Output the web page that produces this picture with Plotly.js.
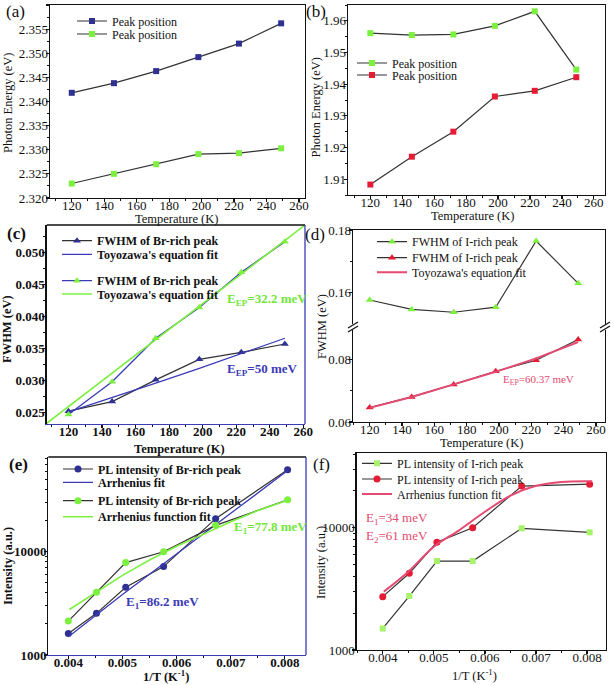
<!DOCTYPE html>
<html><head><meta charset="utf-8">
<script src="https://cdn.plot.ly/plotly-3.0.1.min.js"></script>
<style>html,body{margin:0;padding:0;background:#fff}#g{width:614px;height:685px}</style>
</head><body><div id="g"></div>
<script>
// ---- data ----
const temps = [120, 146, 172, 198, 223, 249];
const aBrPeak = [2.3418, 2.3438, 2.3463, 2.3492, 2.3520, 2.3562];
const aIPeak = [2.3230, 2.3250, 2.3270, 2.3291, 2.3293, 2.3303];
const bGreenPeak = [1.9561, 1.9555, 1.9557, 1.9584, 1.9630, 1.9446];
const bRedPeak = [1.9083, 1.9171, 1.9250, 1.9361, 1.9379, 1.9422];
const cFwhm1 = [0.0252, 0.0267, 0.0301, 0.0333, 0.0344, 0.0357];
const cFit1 = [0.0251, 0.0273, 0.0296, 0.0319, 0.0342, 0.0366];
const cFwhm2 = [0.0247, 0.0298, 0.0366, 0.0414, 0.0469, 0.0517];
const cFit2T = [104, 150, 200, 262];
const cFit2 = [0.0227, 0.0319, 0.0420, 0.0545];
const dFwhmUpper = [0.1577, 0.1547, 0.1538, 0.1554, 0.1765, 0.1630];
const dFwhmLower = [0.0646, 0.0680, 0.0720, 0.0762, 0.0797, 0.0863];
const dFit = [0.0645, 0.0680, 0.0720, 0.0760, 0.0803, 0.0855];
const invT = [0.00400, 0.00452, 0.00506, 0.00576, 0.00672, 0.00805];
const ePL1 = [1615, 2530, 4520, 7180, 20900, 62100];
const ePL2 = [2130, 4040, 7850, 10000, 18000, 31800];
const fitInvT = [0.00402, 0.0045, 0.0050, 0.0055, 0.0060, 0.0065, 0.0070, 0.0075, 0.00805];
const eFit1 = [1530, 2420, 3850, 6050, 9500, 15000, 23500, 37000, 61000];
const eFit2 = [2760, 4000, 5900, 8300, 11300, 14800, 19500, 25000, 31500];
const fPL1 = [1500, 2760, 5340, 5340, 9890, 9160];
const fPL2 = [2730, 4240, 7600, 10000, 21900, 22700];
const fFitInvT = [0.00402, 0.0045, 0.0050, 0.0055, 0.0060, 0.0065, 0.0070, 0.0075, 0.0081];
const fFit = [3000, 4370, 7000, 9570, 13500, 18300, 22000, 23700, 24000];

// ---- style ----
const F = 'Liberation Serif, Times New Roman, serif';
const NAVY = '#2e3192', LIME = '#7cf03e', LIME2 = '#a6f26a', RED = '#e51c34', BLUE = '#3b3bb8', PINK = '#e44a72', DARK = '#333333';
const W = 614, H = 685;
const px = v => v / W, py = v => 1 - v / H;
const MINOR = {ticks: 'outside', ticklen: 2, tickwidth: 1, tickcolor: '#111'};

function ax(o, bold) {
  return Object.assign({
    showline: true, linecolor: '#111', linewidth: 1.3, mirror: true,
    ticks: 'outside', ticklen: 3, tickwidth: 1.2, tickcolor: '#111',
    showgrid: false, zeroline: false,
    tickfont: {family: F, size: 13, color: '#111', weight: bold ? 'bold' : 'normal'},
    minor: MINOR
  }, o);
}

const traces = [
  // (a)
  {x: temps, y: aBrPeak, xaxis: 'x', yaxis: 'y', mode: 'lines+markers', name: 'Peak position',
   line: {color: DARK, width: 1.2}, marker: {symbol: 'square', size: 6, color: NAVY}},
  {x: temps, y: aIPeak, xaxis: 'x', yaxis: 'y', mode: 'lines+markers', name: 'Peak position',
   line: {color: DARK, width: 1.2}, marker: {symbol: 'square', size: 6, color: LIME}},
  // (b)
  {x: temps, y: bGreenPeak, xaxis: 'x2', yaxis: 'y2', mode: 'lines+markers', name: 'Peak position',
   line: {color: DARK, width: 1.2}, marker: {symbol: 'square', size: 6, color: LIME}},
  {x: temps, y: bRedPeak, xaxis: 'x2', yaxis: 'y2', mode: 'lines+markers', name: 'Peak position',
   line: {color: DARK, width: 1.2}, marker: {symbol: 'square', size: 6, color: RED}},
  // (c)
  {x: temps, y: cFwhm1, xaxis: 'x3', yaxis: 'y3', mode: 'lines+markers', name: 'FWHM of Br-rich peak',
   line: {color: DARK, width: 1.2}, marker: {symbol: 'triangle-up', size: 7, color: NAVY}},
  {x: temps, y: cFit1, xaxis: 'x3', yaxis: 'y3', mode: 'lines', name: "Toyozawa's equation fit",
   line: {color: BLUE, width: 1.3}},
  {x: temps, y: cFwhm2, xaxis: 'x3', yaxis: 'y3', mode: 'lines+markers', name: 'FWHM of Br-rich peak',
   line: {color: BLUE, width: 1.3}, marker: {symbol: 'triangle-up', size: 7, color: LIME}},
  {x: cFit2T, y: cFit2, xaxis: 'x3', yaxis: 'y3', mode: 'lines', name: "Toyozawa's equation fit",
   line: {color: LIME, width: 1.6}},
  // (d)
  {x: temps, y: dFwhmUpper, xaxis: 'x5', yaxis: 'y5', mode: 'lines+markers', name: 'FWHM of I-rich peak',
   line: {color: DARK, width: 1.2}, marker: {symbol: 'triangle-up', size: 7, color: LIME}},
  {x: temps, y: dFwhmLower, xaxis: 'x4', yaxis: 'y4', mode: 'lines+markers', name: 'FWHM of I-rich peak',
   line: {color: DARK, width: 1.2}, marker: {symbol: 'triangle-up', size: 7, color: RED}},
  {x: temps, y: dFit, xaxis: 'x4', yaxis: 'y4', mode: 'lines', name: "Toyozawa's equation fit",
   line: {color: PINK, width: 2}},
  // (e)
  {x: invT, y: ePL1, xaxis: 'x6', yaxis: 'y6', mode: 'lines+markers', name: 'PL intensity of Br-rich peak',
   line: {color: DARK, width: 1.2}, marker: {symbol: 'circle', size: 7, color: NAVY}},
  {x: fitInvT, y: eFit1, xaxis: 'x6', yaxis: 'y6', mode: 'lines', name: 'Arrhenius fit',
   line: {color: BLUE, width: 1.3}},
  {x: invT, y: ePL2, xaxis: 'x6', yaxis: 'y6', mode: 'lines+markers', name: 'PL intensity of Br-rich peak',
   line: {color: DARK, width: 1.2}, marker: {symbol: 'circle', size: 7, color: LIME}},
  {x: fitInvT, y: eFit2, xaxis: 'x6', yaxis: 'y6', mode: 'lines', name: 'Arrhenius function fit',
   line: {color: LIME, width: 1.6}},
  // (f)
  {x: invT, y: fPL1, xaxis: 'x7', yaxis: 'y7', mode: 'lines+markers', name: 'PL intensity of I-rich peak',
   line: {color: DARK, width: 1.2}, marker: {symbol: 'square', size: 6, color: LIME2}},
  {x: invT, y: fPL2, xaxis: 'x7', yaxis: 'y7', mode: 'lines+markers', name: 'PL intensity of I-rich peak',
   line: {color: DARK, width: 1.2}, marker: {symbol: 'circle', size: 7, color: RED}},
  {x: fFitInvT, y: fFit, xaxis: 'x7', yaxis: 'y7', mode: 'lines', name: 'Arrhenius function fit',
   line: {color: PINK, width: 2, shape: 'spline'}}
];

const XS = -8, YS = -5;
const tempTicks = {tickmode: 'linear', tick0: 120, dtick: 20, ticklabelstandoff: XS, minor: Object.assign({dtick: 10, tick0: 110}, MINOR)};
const invTicks = {tickmode: 'linear', tick0: 0.004, dtick: 0.001, tickformat: '.3f', ticklabelstandoff: XS, minor: Object.assign({dtick: 0.0005, tick0: 0.0035}, MINOR)};
const logMinor = [2000,3000,4000,5000,6000,7000,8000,9000,20000,30000,40000,50000,60000,70000,80000,90000];
const logTicks = {type: 'log', tickvals: [1000, 10000], ticktext: ['1000', '10000'], ticklabelstandoff: YS, minor: Object.assign({tickvals: logMinor}, MINOR)};

const layout = {
  width: W, height: H, margin: {l: 0, r: 0, t: 0, b: 0}, paper_bgcolor: '#fff', plot_bgcolor: '#fff', showlegend: true,
  font: {family: F, color: '#111'},
  // (a)
  xaxis: ax(Object.assign({domain: [px(50), px(305)], anchor: 'y', range: [106.6, 263.7]}, tempTicks)),
  yaxis: ax({domain: [py(198), py(5)], anchor: 'x', range: [2.320, 2.360], tickmode: 'linear', tick0: 2.32, dtick: 0.005, tickformat: '.3f', ticklabelstandoff: YS,
    minor: Object.assign({dtick: 0.0025, tick0: 2.32}, MINOR)}),
  // (b)
  xaxis2: ax(Object.assign({domain: [px(348), px(605)], anchor: 'y2', range: [106, 267]}, tempTicks)),
  yaxis2: ax({domain: [py(195), py(5)], anchor: 'x2', range: [1.905, 1.965], tickmode: 'linear', tick0: 1.91, dtick: 0.01, tickformat: '.2f', ticklabelstandoff: YS,
    minor: Object.assign({dtick: 0.005, tick0: 1.905}, MINOR)}),
  // (c)
  xaxis3: ax(Object.assign({domain: [px(46.7), px(305)], anchor: 'y3', range: [107, 261], linecolor: BLUE, mirror: false}, tempTicks), true),
  yaxis3: ax({domain: [py(424), py(225)], anchor: 'x3', range: [0.0232, 0.0543], mirror: false, tickmode: 'linear', tick0: 0.025, dtick: 0.005, tickformat: '.3f', ticklabelstandoff: YS,
    minor: Object.assign({dtick: 0.0025, tick0: 0.0225}, MINOR)}, true),
  // (d) lower
  xaxis4: ax(Object.assign({domain: [px(353), px(605)], anchor: 'y4', range: [109.7, 265.6], mirror: false}, tempTicks)),
  yaxis4: ax({domain: [py(422), py(327)], anchor: 'x4', range: [0.06, 0.0903], tickvals: [0.06, 0.08], ticktext: ['0.06', '0.08'], ticklabelstandoff: YS,
    minor: Object.assign({tickvals: [0.07, 0.09]}, MINOR)}),
  // (d) upper
  xaxis5: ax({domain: [px(353), px(605)], anchor: 'y5', matches: 'x4', side: 'top', ticks: '', showticklabels: false, mirror: false,
    minor: {ticks: ''}}),
  yaxis5: ax({domain: [py(327), py(230)], anchor: 'x5', range: [0.1491, 0.18], tickvals: [0.16, 0.18], ticktext: ['0.16', '0.18'], ticklabelstandoff: YS,
    minor: Object.assign({tickvals: [0.15, 0.17]}, MINOR)}),
  // (e)
  xaxis6: ax(Object.assign({domain: [px(48.3), px(306)], anchor: 'y6', range: [0.00363, 0.00839], linecolor: BLUE, mirror: false}, invTicks), true),
  yaxis6: ax(Object.assign({domain: [py(655), py(457)], anchor: 'x6', range: [3, 4.917], mirror: false}, logTicks), true),
  // (f)
  xaxis7: ax(Object.assign({domain: [px(356.7), px(606)], anchor: 'y7', range: [0.00349, 0.00837]}, invTicks)),
  yaxis7: ax(Object.assign({domain: [py(650), py(453)], anchor: 'x7', range: [3, 4.611]}, logTicks)),

  shapes: [
    // (c) frame: top black, right blue
    {type: 'line', xref: 'x3 domain', yref: 'y3 domain', x0: 0, x1: 1, y0: 1, y1: 1, line: {color: '#111', width: 1.3}},
    {type: 'line', xref: 'x3 domain', yref: 'y3 domain', x0: 1, x1: 1, y0: 0, y1: 1, line: {color: BLUE, width: 1.3}},
    // (e) frame
    {type: 'line', xref: 'x6 domain', yref: 'y6 domain', x0: 0, x1: 1, y0: 1, y1: 1, line: {color: '#111', width: 1.3}},
    {type: 'line', xref: 'x6 domain', yref: 'y6 domain', x0: 1, x1: 1, y0: 0, y1: 1, line: {color: BLUE, width: 1.3}},
    // (d) axis break marks
    {type: 'rect', xref: 'paper', yref: 'paper', x0: px(350), x1: px(356), y0: py(330), y1: py(324), fillcolor: '#fff', line: {width: 0}},
    {type: 'rect', xref: 'paper', yref: 'paper', x0: px(602), x1: px(608), y0: py(330), y1: py(324), fillcolor: '#fff', line: {width: 0}},
    {type: 'line', xref: 'paper', yref: 'paper', x0: px(348), x1: px(358), y0: py(332), y1: py(326), line: {color: '#111', width: 1.3}},
    {type: 'line', xref: 'paper', yref: 'paper', x0: px(348), x1: px(358), y0: py(328), y1: py(322), line: {color: '#111', width: 1.3}},
    {type: 'line', xref: 'paper', yref: 'paper', x0: px(600), x1: px(610), y0: py(332), y1: py(326), line: {color: '#111', width: 1.3}},
    {type: 'line', xref: 'paper', yref: 'paper', x0: px(600), x1: px(610), y0: py(328), y1: py(322), line: {color: '#111', width: 1.3}}
  ],
  annotations: []
};

// text labels: [text, x, y, size, colour, bold, angle]
const labels = [
  ['(a)', 15, 12, 17, '#111', 0, 0], ['(b)', 316, 12, 17, '#111', 0, 0],
  ['(c)', 16, 233, 17, '#111', 1, 0], ['(d)', 315, 234, 17, '#111', 0, 0],
  ['(e)', 18, 464, 17, '#111', 1, 0], ['(f)', 321, 465, 17, '#111', 0, 0],
  // axis titles
  ['Temperature (K)', 176, 219, 12.5, '#111', 0, 0], ['Photon Energy (eV)', 8, 103, 12.5, '#111', 0, -90],
  ['Temperature (K)', 472, 216, 12.5, '#111', 0, 0], ['Photon Energy (eV)', 316, 107.5, 12.5, '#111', 0, -90],
  ['Temperature (K)', 179, 449, 12.5, '#111', 1, 0], ['FWHM (eV)', 7, 329, 12.5, '#111', 1, -90],
  ['Temperature (K)', 481, 443, 12.5, '#111', 0, 0], ['FWHM (eV)', 322, 327, 12.5, '#111', 0, -90],
  ['1/T (K<sup>-1</sup>)', 166, 676, 12.5, '#111', 1, 0], ['Intensity (a.u.)', 8, 566, 12.5, '#111', 1, -90],
  ['1/T (K<sup>-1</sup>)', 474, 675, 12.5, '#111', 0, 0], ['Intensity (a.u.)', 321, 563, 12.5, '#111', 0, -90],
  // fit results
  ['E<sub>EP</sub>=32.2 meV', 267, 299, 13, '#72e63a', 1, 0], ['E<sub>EP</sub>=50 meV', 262, 369, 13, BLUE, 1, 0],
  ['E<sub>EP</sub>=60.37 meV', 538, 380, 11, PINK, 0, 0],
  ['E<sub>1</sub>=77.8 meV', 270, 527, 13, '#72e63a', 1, 0], ['E<sub>1</sub>=86.2 meV', 162, 602, 13, BLUE, 1, 0],
  ['E<sub>1</sub>=34 meV', 397, 518, 13, PINK, 0, 0], ['E<sub>2</sub>=61 meV', 397, 536, 13, PINK, 0, 0]
];
labels.forEach(l => layout.annotations.push({text: l[0], x: px(l[1]), y: py(l[2]), xref: 'paper', yref: 'paper', showarrow: false,
  textangle: l[6], xanchor: 'center', yanchor: 'middle', font: {family: F, size: l[3], color: l[4], weight: l[5] ? 'bold' : 'normal'}}));

// one legend per entry so each entry sits where the reference puts it: [sample start x, centre y, bold]
const legendSpots = [
  [80, 21, 0], [80, 34, 0],
  [360, 63, 0], [360, 75, 0],
  [65, 240.7, 1], [65, 254.3, 1], [65, 280.7, 1], [65, 294, 1],
  [380, 241.7, 0], [380, 257.7, 0], [380, 272.3, 0],
  [66, 469, 1], [66, 482.3, 1], [66, 500.7, 1], [66, 516.7, 1],
  [365, 463.3, 0], [365, 479, 0], [365, 494, 0]
];
traces.forEach((t, i) => {
  const key = i === 0 ? 'legend' : 'legend' + (i + 1);
  t.legend = key;
  const s = legendSpots[i];
  layout[key] = {x: px(s[0] - 8), y: py(s[1]), xanchor: 'left', yanchor: 'middle', bgcolor: 'rgba(0,0,0,0)', borderwidth: 0,
    font: {family: F, size: 12, color: '#111', weight: s[2] ? 'bold' : 'normal'}, itemwidth: 30};
});

Plotly.newPlot('g', traces, layout, {staticPlot: true, displayModeBar: false});
</script>
</body></html>
